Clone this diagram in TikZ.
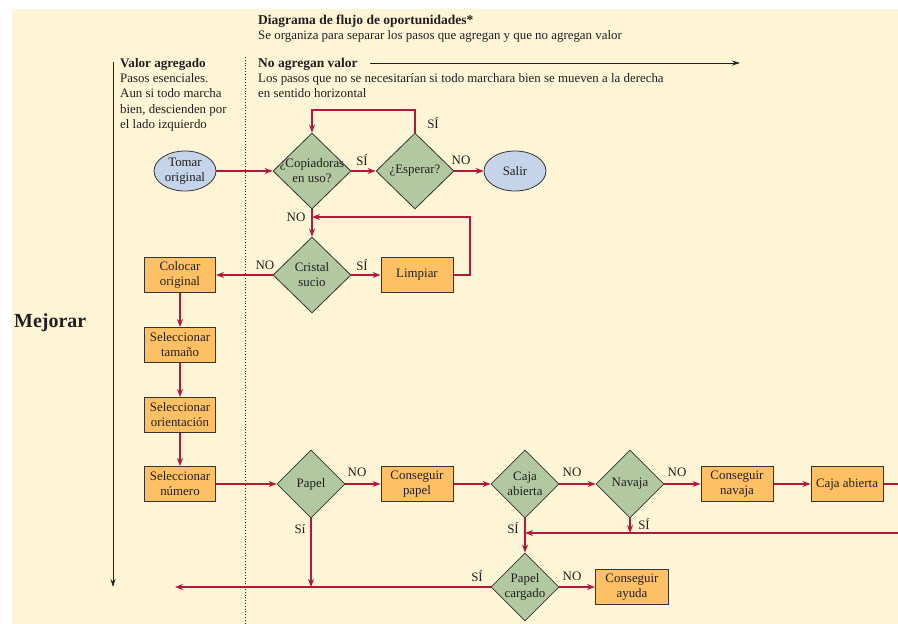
\documentclass[tikz,border=0pt]{standalone}
\usepackage{fontspec}
\setmainfont{Liberation Serif}
\usetikzlibrary{shapes.geometric,arrows.meta}
\definecolor{bg}{HTML}{FEF4D6}
\definecolor{boxorange}{HTML}{FDC064}
\definecolor{diagreen}{HTML}{B2C8A0}
\definecolor{ovalblue}{HTML}{C5D4E8}
\definecolor{arrowred}{HTML}{B2183C}
\definecolor{boxline}{HTML}{333333}
\definecolor{textc}{HTML}{231F20}
\begin{document}
\begin{tikzpicture}[x=1pt,y=-1pt,font=\fontsize{12.9}{15}\selectfont,
  redarrow/.style={draw=arrowred, line width=1.1pt, -{Stealth[length=8pt,width=6pt]}},
  redline/.style={draw=arrowred, line width=1.1pt},
  blackarrow/.style={draw=textc, line width=0.8pt, -{Stealth[length=8pt,width=5pt]}},
  box/.style={rectangle, draw=boxline, line width=1pt, fill=boxorange, minimum width=72, minimum height=35, inner sep=0, align=center, text=textc},
  dia/.style={diamond, draw=boxline, line width=0.8pt, fill=diagreen, inner sep=0, minimum width=68, minimum height=68},
  bigdia/.style={dia, minimum width=78, minimum height=76},
  oval/.style={ellipse, draw=boxline, line width=0.8pt, fill=ovalblue, minimum width=62, minimum height=40, inner sep=0},
  txt/.style={align=center, inner sep=0, text=textc},
  lbl/.style={inner sep=0, text=textc},
  hdr/.style={anchor=base west, inner sep=0, text=textc},
  bhdr/.style={hdr, font=\fontsize{13.5}{15}\selectfont\bfseries}]
\useasboundingbox (0,0) rectangle (898,624);
\fill[white] (0,0) rectangle (898,624);
\fill[bg] (12,9) rectangle (898,624);

% headers
\node[bhdr] (h1) at (258,24) {Diagrama de flujo de oportunidades*};
\node[hdr] (h2) at (258,39) {Se organiza para separar los pasos que agregan y que no agregan valor};
\node[bhdr, font=\fontsize{13.1}{15}\selectfont\bfseries] (v1) at (120,67) {Valor agregado};
\node[hdr] (v2) at (120,82) {Pasos esenciales.};
\node[hdr] (v3) at (120,97) {Aun si todo marcha};
\node[hdr] (v4) at (120,113) {bien, descienden por};
\node[hdr] (v5) at (120,128) {el lado izquierdo};
\node[bhdr] (n1) at (258,67) {No agregan valor};
\node[hdr] (n2) at (258,82) {Los pasos que no se necesitarían si todo marchara bien se mueven a la derecha};
\node[hdr] (n3) at (258,97) {en sentido horizontal};
\node[hdr,font=\fontsize{20}{24}\selectfont\bfseries] (mej) at (14,327) {Mejorar};

\coordinate (ha) at (370,63);
\coordinate (hb) at (740,63);
\draw[blackarrow] (ha) -- (hb);
\coordinate (va) at (113,62);
\coordinate (vb) at (113,587);
\draw[blackarrow] (va) -- (vb);
\coordinate (da) at (245,57);
\coordinate (db) at (245,624);
\draw[textc, line width=0.8pt, dotted] (da) -- (db);

% top part
\node[oval] (tom) at (185,171) {};
\node[txt] (tomt) at (tom) {Tomar\\original};
\node[bigdia] (cop) at (312,171) {};
\node[txt] (copt) at (cop) {¿Copiadoras\\en uso?};
\node[bigdia] (esp) at (415,171) {};
\node[txt] (espt) at (esp) {¿Esperar?};
\node[oval] (sal) at (515,171) {};
\node[txt] (salt) at (sal) {Salir};
\node[bigdia] (cri) at (312,275) {};
\node[txt] (crit) at (cri) {Cristal\\sucio};
\node[box] (lim) at (417,275) {Limpiar};

% left column
\node[box, minimum width=71] (col) at (180,275) {Colocar\\original};
\node[box, minimum width=71] (tam) at (180,345) {Seleccionar\\tamaño};
\node[box, minimum width=71] (ori) at (180,415) {Seleccionar\\orientación};
\node[box, minimum width=71] (num) at (180,484) {Seleccionar\\número};

% bottom row
\node[dia] (pap) at (311,484) {};
\node[txt] (papt) at (pap) {Papel};
\node[box] (cpa) at (417,484) {Conseguir\\papel};
\node[dia] (caj) at (525,484) {};
\node[txt] (cajt) at (caj) {Caja\\abierta};
\node[dia] (nav) at (630,484) {};
\node[txt] (navt) at (nav) {Navaja};
\node[box] (cna) at (737,484) {Conseguir\\navaja};
\node[box] (cab) at (847,484) {Caja abierta};
\node[dia] (pca) at (525,587) {};
\node[txt] (pcat) at (pca) {Papel\\cargado};
\node[box, minimum width=73] (ayu) at (632,587) {Conseguir\\ayuda};

% connectors
\draw[redarrow] (tom.east) -- (cop.west);
\draw[redarrow] (cop.east) -- (esp.west);
\draw[redarrow] (esp.east) -- (sal.west);
\draw[redarrow] (esp.north) -- (415,110) -| (cop.north);
\draw[redarrow] (cop.south) -- (cri.north);
\coordinate (lr) at (312,217);
\draw[redarrow] (lim.east) -- (470,275) |- (lr);
\draw[redarrow] (cri.east) -- (lim.west);
\draw[redarrow] (cri.west) -- (col.east);
\draw[redarrow] (col.south) -- (tam.north);
\draw[redarrow] (tam.south) -- (ori.north);
\draw[redarrow] (ori.south) -- (num.north);
\draw[redarrow] (num.east) -- (pap.west);
\draw[redarrow] (pap.east) -- (cpa.west);
\draw[redarrow] (cpa.east) -- (caj.west);
\draw[redarrow] (caj.east) -- (nav.west);
\draw[redarrow] (nav.east) -- (cna.west);
\draw[redarrow] (cna.east) -- (cab.west);
\coordinate (re) at (898,484);
\draw[redline] (cab.east) -- (re);
\coordinate (rr) at (898,533);
\coordinate (rl) at (525,533);
\draw[redarrow] (rr) -- (rl);
\coordinate (nd) at (630,533);
\draw[redarrow] (nav.south) -- (nd);
\draw[redarrow] (caj.south) -- (pca.north);
\draw[redarrow] (pca.east) -- (ayu.west);
\coordinate (le) at (175,587);
\draw[redarrow] (pca.west) -- (le);
\coordinate (pd) at (311,587);
\draw[redarrow] (pap.south) -- (pd);

% labels
\node[lbl] (l1) at (433,123) {SÍ};
\node[lbl] (l2) at (362,160) {SÍ};
\node[lbl] (l3) at (461,160) {NO};
\node[lbl] (l4) at (296,217) {NO};
\node[lbl] (l5) at (265,265) {NO};
\node[lbl] (l6) at (362,265) {SÍ};
\node[lbl] (l7) at (357,472) {NO};
\node[lbl] (l8) at (300,529) {Sí};
\node[lbl] (l9) at (572,472) {NO};
\node[lbl] (l10) at (677,472) {NO};
\node[lbl] (l11) at (644,524) {SÍ};
\node[lbl] (l12) at (513,528) {SÍ};
\node[lbl] (l13) at (477,576) {SÍ};
\node[lbl] (l14) at (572,576) {NO};
\end{tikzpicture}
\end{document}
